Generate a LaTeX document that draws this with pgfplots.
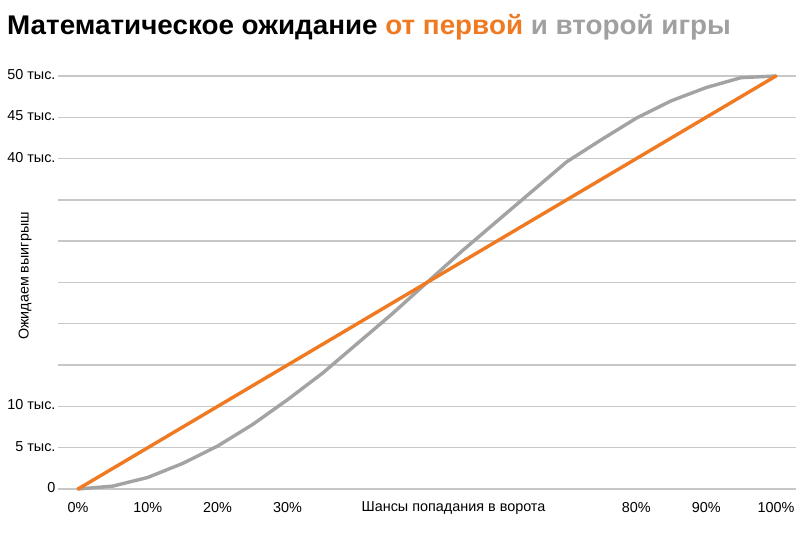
\documentclass[border=0pt]{standalone}
\usepackage{pgfplots}
\pgfplotsset{compat=1.18}
\usepackage{fontspec}
\setmainfont{Liberation Sans}
\definecolor{myorange}{RGB}{239,122,34}
\definecolor{mygray}{RGB}{163,163,163}
\definecolor{titlegray}{RGB}{160,160,160}
\definecolor{gridgray}{RGB}{200,200,200}
\begin{document}
\begin{tikzpicture}[x=1pt,y=1pt]
\useasboundingbox (0,0) rectangle (807,533);
\fill[white] (0,0) rectangle (807,533);
\node[anchor=base west, inner sep=0, font=\bfseries\fontsize{27}{32}\selectfont] at (7,498)
  {\scalebox{1.03}[1]{Математическое ожидание \textcolor{myorange}{от первой} \textcolor{titlegray}{и второй игры}}};
\node[rotate=90, font=\fontsize{14.3}{17}\selectfont, inner sep=0] at (25,257) {Ожидаем выигрыш};
\begin{axis}[
  at={(58pt,44pt)}, anchor=south west,
  width=738pt, height=413pt, scale only axis,
  xmin=-2.87, xmax=102.87, ymin=0, ymax=50,
  axis line style={draw=none}, tick style={draw=none},
  ymajorgrids, grid style={gridgray, line width=1.4pt},
  ytick={0,5,...,50},
  yticklabels={0,5 тыс.,10 тыс.,,,,,,40 тыс.,45 тыс.,50 тыс.},
  xtick={0,10,20,30,53.8,80,90,100},
  xticklabels={0\%,10\%,20\%,30\%,Шансы попадания в ворота,80\%,90\%,100\%},
  ticklabel style={font=\fontsize{14.4}{17}\selectfont},
  yticklabel style={xshift=1pt, yshift=1.5pt},
  xticklabel style={yshift=-9.5pt},
  clip=false,
]
\addplot[mygray, line width=3.4pt, line join=round, line cap=round] coordinates {
(0,0) (5,0.35) (10,1.4) (15,3.1) (20,5.2) (25,7.8) (30,10.8) (35,14.0) (40,17.6) (45,21.2) (50,25.0) (55,28.8) (60,32.4) (65,36.0) (70,39.6) (75,42.3) (80,44.9) (85,47.0) (90,48.6) (95,49.8) (100,50)
};
\addplot[myorange, line width=3.4pt, line cap=round] coordinates {(0,0) (100,50)};
\end{axis}
\end{tikzpicture}
\end{document}
